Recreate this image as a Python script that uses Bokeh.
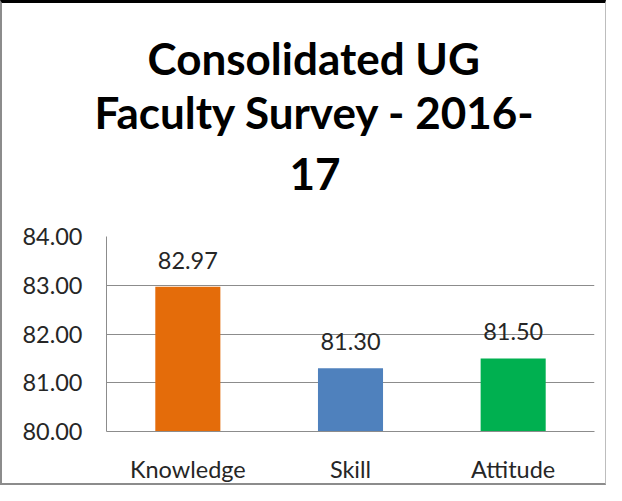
from bokeh.plotting import figure
from bokeh.models import ColumnDataSource, LabelSet, Title, FixedTicker, PrintfTickFormatter
from bokeh.core.properties import value
from bokeh.embed import file_html
from bokeh.resources import INLINE

categories = ["Knowledge", "Skill", "Attitude"]
scores = [82.97, 81.30, 81.50]
colors = ["#E46C0A", "#4F81BD", "#00B050"]
y_ticks = [80, 81, 82, 83, 84]
y_min, y_max = 80, 84
title_lines = ["Consolidated UG", "Faculty Survey - 2016-", "17"]

source = ColumnDataSource(dict(
    cat=categories,
    score=scores,
    color=colors,
    label=[f"{v:.2f}" for v in scores],
))

p = figure(
    x_range=categories, y_range=(y_min, y_max),
    width=606, height=485,
    output_backend="svg", toolbar_location=None,
    min_border_left=104, min_border_right=14,
    min_border_top=233, min_border_bottom=57,
)
p.styles = {
    "border-top": "3px solid #000000",
    "border-left": "2px solid #8c8c8c",
    "border-right": "1px solid #bdbdbd",
    "border-bottom": "2px solid #8c8c8c",
}
p.title = None

# spacer between the title block and the plot frame (innermost panel)
p.add_layout(Title(text=" ", text_font="Lato", text_font_size="17px", standoff=6), "above")

# one Title per line (last added is outermost), left-aligned with pixel offsets
title_offsets = [41, -12, 183]
title_standoffs = [0, 0, 36]
for line, off, so in reversed(list(zip(title_lines, title_offsets, title_standoffs))):
    p.add_layout(Title(
        text=line, align="left", offset=off, standoff=so,
        text_font="Lato", text_font_style="bold", text_font_size="44px",
        text_color="#000000",
    ), "above")

p.vbar(x="cat", top="score", bottom=y_min, width=0.4, color="color",
       line_color=None, source=source)

labels = LabelSet(x="cat", y="score", text="label", source=source,
                  text_align="center", text_baseline="alphabetic", y_offset=18,
                  text_font=value("Lato"), text_font_size="23.5px",
                  text_color="#262626")
p.add_layout(labels)

p.x_range.range_padding = 0
p.outline_line_color = None
p.background_fill_color = "white"
p.border_fill_color = "white"

p.xgrid.grid_line_color = None
p.ygrid.grid_line_color = "#8c8c8c"
p.ygrid.grid_line_width = 1

p.yaxis.ticker = FixedTicker(ticks=y_ticks)
p.yaxis.formatter = PrintfTickFormatter(format="%.2f")
for ax in (p.xaxis, p.yaxis):
    ax.axis_line_color = "#8c8c8c"
    ax.major_tick_line_color = None
    ax.minor_tick_line_color = None
    ax.major_tick_in = 0
    ax.major_tick_out = 0
    ax.major_label_text_font = "Lato"
    ax.major_label_text_font_size = "23.5px"
    ax.major_label_text_color = "#262626"
p.yaxis.major_label_standoff = 24
p.xaxis.major_label_standoff = 23

open("out.html", "w").write(file_html(p, INLINE))
